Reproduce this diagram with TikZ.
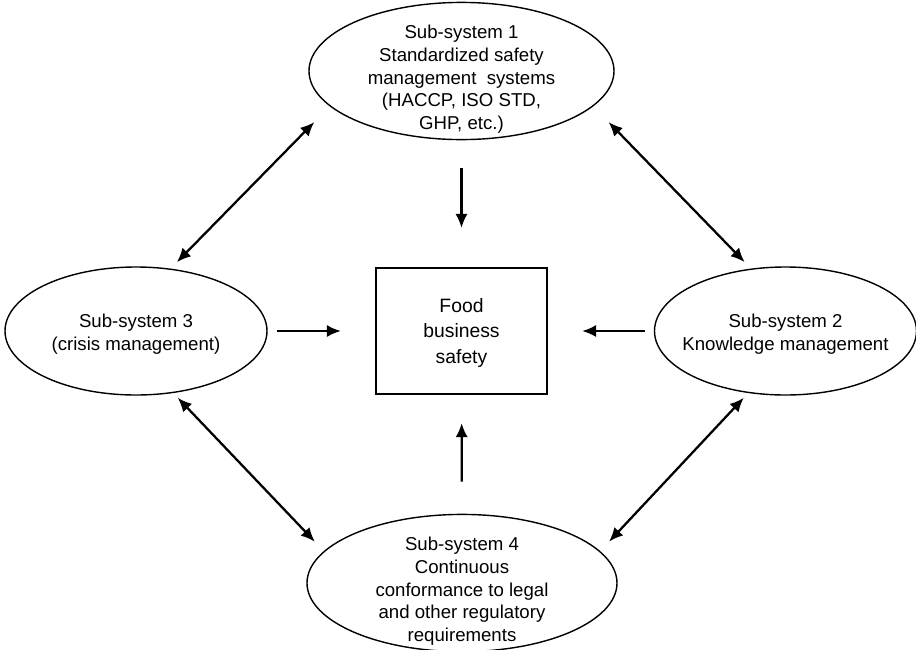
\documentclass[tikz,border=0pt]{standalone}
\usepackage{fontspec}
\setmainfont{Liberation Sans}
\usetikzlibrary{arrows.meta, shapes.geometric}
\tikzset{
  >=latex,
  % Sotto-sistemi e nodo centrale
  sub sys/.style={draw,line width=0.8pt,ellipse,minimum width=5.24cm,minimum height=2.56cm,
    inner xsep=-8pt,inner ysep=-8pt,align=center,font=\fontsize{10.6}{13}\selectfont},
  core/.style={draw,line width=1.3pt,minimum width=3.42cm,minimum height=2.52cm,
    align=center,font=\fontsize{11}{14.4}\selectfont},
  % Connessioni
  connect arrow/.style={-{Latex[length=8pt,width=7pt]},line width=1.3pt},
  connect both/.style={{Latex[length=8pt,width=7pt]}-{Latex[length=8pt,width=7pt]},line width=1.3pt}
}
\begin{document}
\begin{tikzpicture}
    \useasboundingbox (0,0) rectangle (18.32,-12.98);
    \node[core] (fbs) at (9.23,-6.62) {\rule{0pt}{10pt}Food\\business\\safety};
    \node[sub sys,minimum width=6.1cm] (s1) at (9.23,-1.42)
      {\rule{0pt}{17pt}Sub-system 1\\Standardized safety\\management\ \ systems\\(HACCP, ISO STD,\\GHP, etc.)};
    \node[sub sys] (s2) at (15.71,-6.62) {\rule{0pt}{11pt}Sub-system 2\\Knowledge management};
    \node[sub sys] (s3) at (2.72,-6.62) {\rule{0pt}{11pt}Sub-system 3\\(crisis management)};
    \node[sub sys,minimum width=6.2cm] (s4) at (9.24,-11.66)
      {\rule{0pt}{17pt}Sub-system 4\\Continuous\\conformance to legal\\and other regulatory\\requirements};
    % frecce verso il nodo centrale
    \draw[connect arrow,shorten <=0.56cm,shorten >=0.78cm] (s1) -- (fbs);
    \draw[connect arrow,shorten <=0.64cm,shorten >=0.56cm] (s4) -- (fbs);
    \draw[connect arrow,shorten <=0.18cm,shorten >=0.68cm] (s3) -- (fbs);
    \draw[connect arrow,shorten <=0.18cm,shorten >=0.68cm] (s2) -- (fbs);
    % frecce doppie tra sotto-sistemi
    \draw[connect both,shorten <=0.44cm,shorten >=0.18cm] (s1.195) -- (s3.61);
    \draw[connect both,shorten <=0.44cm,shorten >=0.18cm] (s1.345) -- (s2.119);
    \draw[connect both,shorten <=0.13cm,shorten >=0.26cm] (s3.301) -- (s4.167);
    \draw[connect both,shorten <=0.13cm,shorten >=0.26cm] (s2.239) -- (s4.13);
\end{tikzpicture}
\end{document}
